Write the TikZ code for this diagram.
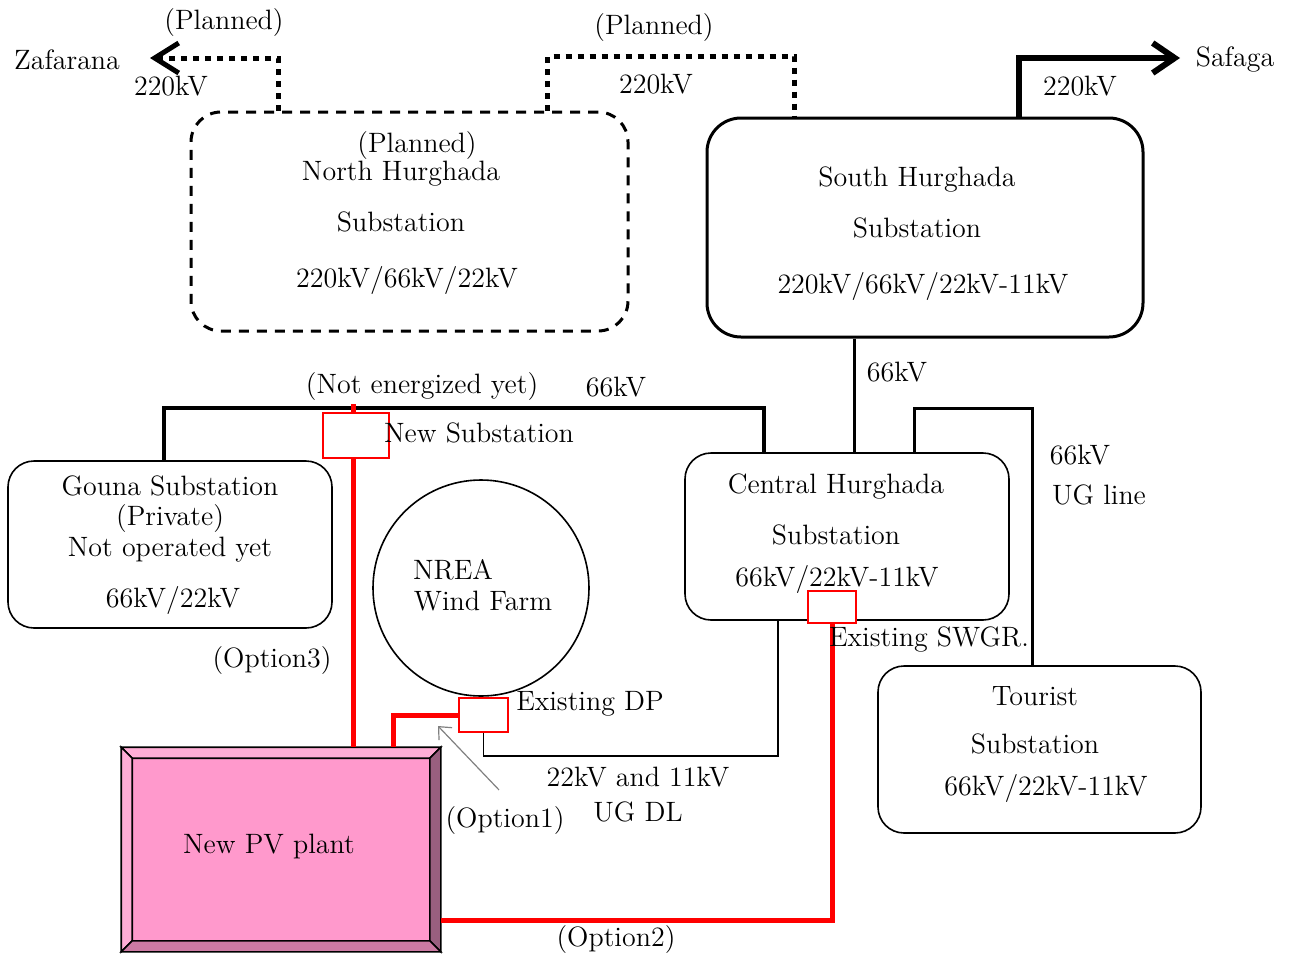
\documentclass[tikz,border=0pt]{standalone}
\usepackage{tikz}
\usetikzlibrary{arrows.meta}
\definecolor{pvface}{HTML}{FF99CC}
\definecolor{pvlight}{HTML}{FFADD6}
\definecolor{pvdark}{HTML}{995F7F}
\definecolor{pvlow}{HTML}{CC7AA3}
\definecolor{pointgray}{HTML}{808080}

\begin{document}
\begin{tikzpicture}[x=0.5pt,y=-0.5pt,font=\fontsize{14}{16}\selectfont,
  planbox/.style={draw,line width=1.5pt,dash pattern=on 5pt off 4pt,rounded corners=15pt,inner sep=0pt},
  mainbox/.style={draw,line width=1.5pt,rounded corners=17pt,inner sep=0pt},
  subbox/.style={draw,line width=0.8pt,rounded corners=13pt,inner sep=0pt},
  redbox/.style={draw=red,line width=0.8pt,fill=white,inner sep=0pt},
  plan220/.style={line width=2.5pt,dash pattern=on 3pt off 3pt},
  feeder220/.style={line width=3pt},
  bus66/.style={line width=1.6pt},
  optline/.style={red,line width=2.5pt},
  dline/.style={line width=0.9pt},
  pointer/.style={pointgray,line width=0.6pt,-{Straight Barb[length=5pt,width=9pt]}}]
  \useasboundingbox (0,0) rectangle (1291,954);

  % substations
  \node[planbox,minimum width=218.5pt,minimum height=109.5pt] (north) at (409.5,221.5) {};
  \node[mainbox,minimum width=218pt,minimum height=109.5pt] (south) at (925,227.5) {};
  \node[subbox,minimum width=162pt,minimum height=83.5pt] (gouna) at (170,544.5) {};
  \node[subbox,minimum width=162pt,minimum height=83.5pt] (central) at (847,536.5) {};
  \node[subbox,minimum width=161.5pt,minimum height=83.5pt] (tourist) at (1039.5,749.5) {};
  \node[draw,circle,line width=0.8pt,minimum size=108pt,inner sep=0pt] (wind) at (481,588) {};

  % switchgear boxes
  \node[redbox,minimum width=33pt,minimum height=22.5pt] (newsub) at (356,435.5) {};
  \node[redbox,minimum width=24pt,minimum height=16pt] (swgr) at (832,607) {};
  \node[redbox,minimum width=24.5pt,minimum height=17pt] (dp) at (483.5,715) {};

  % PV plant
  \node[draw,fill=pvface,line width=0.8pt,minimum width=159pt,minimum height=101.5pt,inner sep=0pt] (pv) at (281,849.5) {};
  \filldraw[fill=pvlight,line width=0.8pt] (pv.north west) -- (pv.north east) -- ([shift={(-5.5pt,-5.5pt)}]pv.north east) -- ([shift={(5.5pt,-5.5pt)}]pv.north west) -- cycle;
  \filldraw[fill=pvlight,line width=0.8pt] (pv.north west) -- (pv.south west) -- ([shift={(5.5pt,5.5pt)}]pv.south west) -- ([shift={(5.5pt,-5.5pt)}]pv.north west) -- cycle;
  \filldraw[fill=pvdark,line width=0.8pt] (pv.north east) -- (pv.south east) -- ([shift={(-5.5pt,5.5pt)}]pv.south east) -- ([shift={(-5.5pt,-5.5pt)}]pv.north east) -- cycle;
  \filldraw[fill=pvlow,line width=0.8pt] (pv.south west) -- (pv.south east) -- ([shift={(-5.5pt,5.5pt)}]pv.south east) -- ([shift={(5.5pt,5.5pt)}]pv.south west) -- cycle;

  % 220kV lines
  \coordinate (zaf) at (150,58);
  \coordinate (saf) at (1180,58);
  \draw[plan220,-{Straight Barb[length=12pt,width=15pt]}] ([xshift=44.5pt]north.north west) |- (zaf);
  \draw[plan220] ([xshift=179pt]north.north west) -- ++(0,-54) -| ([xshift=44.5pt]south.north west);
  \draw[feeder220,-{Straight Barb[length=11pt,width=15pt]}] ([xshift=156.5pt]south.north west) |- (saf);

  % 66kV lines
  \draw[bus66] ([xshift=74.5pt]south.south west) coordinate (s66) -- (s66 |- central.north);
  \draw[line width=2pt] ([xshift=78.5pt]gouna.north west) -- ++(0,-52) -| ([xshift=40pt]central.north west);
  \draw[bus66] ([xshift=115pt]central.north west) -- ++(0,-44) -| ([xshift=77.5pt]tourist.north west);

  % options
  \draw[optline] ([xshift=-1.5pt]newsub.north) -- ++(0,-8);
  \draw[optline] ([xshift=-1.5pt]newsub.south) coordinate (n3) -- (n3 |- pv.north);
  \draw[optline] (dp.west) -| ([xshift=136pt]pv.north west);
  \draw[optline] (swgr.south) |- ([yshift=15.5pt]pv.south east);
  \draw[dline] (dp.south) -- ++(0,23) -| ([xshift=47pt]central.south west);

  % texts
  \node (zaflbl) at (67,60) {Zafarana};
  \node (saflbl) at (1235,60) {Safaga};
  \node (plan1) at (224,23) {(Planned)};
  \node (kv1) at (171,86) {220kV};
  \node (plan2) at (654,28) {(Planned)};
  \node (kv2) at (656,84) {220kV};
  \node (kv3) at (1080,86) {220kV};
  \node (nt1) at (417,146) {(Planned)};
  \node (nt2) at (401,174) {North Hurghada};
  \node (nt3) at (401,222) {Substation};
  \node (nt4) at (407,280) {220kV/66kV/22kV};
  \node (st1) at (917,180) {South Hurghada};
  \node (st2) at (917,228) {Substation};
  \node (st3) at (923,286) {220kV/66kV/22kV-11kV};
  \node (kv4) at (897,372) {66kV};
  \node (notyet) at (422,387) {(Not energized yet)};
  \node (kv5) at (616,387) {66kV};
  \node (newlbl) at (479,433) {New Substation};
  \node (gt1) at (170,486) {Gouna Substation};
  \node (gt2) at (170,519) {(Private)};
  \node (gt3) at (170,550) {Not operated yet};
  \node (gt4) at (173,600) {66kV/22kV};
  \node (wt1) at (453,570) {NREA};
  \node (wt2) at (483,601) {Wind Farm};
  \node (ct1) at (836,487) {Central Hurghada};
  \node (ct2) at (836,535) {Substation};
  \node (ct3) at (837,579) {66kV/22kV-11kV};
  \node (ug1) at (1080,455) {66kV};
  \node (ug2) at (1099,495) {UG line};
  \node (swlbl) at (929,640) {Existing SWGR.};
  \node (tt1) at (1035,696) {Tourist};
  \node (tt2) at (1035,744) {Substation};
  \node (tt3) at (1046,788) {66kV/22kV-11kV};
  \node (opt3) at (272,661) {(Option3)};
  \node (dplbl) at (590,704) {Existing DP};
  \node (dl1) at (638,777) {22kV and 11kV};
  \node (dl2) at (638,812) {UG DL};
  \node (opt1) at (505,821) {(Option1)};
  \node (opt2) at (616,940) {(Option2)};
  \node (pvlbl) at (269,846) {New PV plant};

  \coordinate (opt1tip) at (438,726);
  \draw[pointer] ([yshift=5pt,xshift=-3pt]opt1.north) -- (opt1tip);
\end{tikzpicture}
\end{document}
